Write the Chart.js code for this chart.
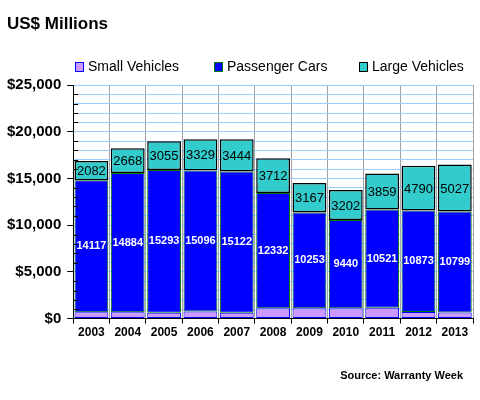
<!DOCTYPE html>
<html>
<head>
<meta charset="utf-8">
<script src="https://cdn.jsdelivr.net/npm/chart.js@4/dist/chart.umd.min.js"></script>
<style>
  html, body { margin: 0; padding: 0; background: #fff; }
  #wrap { width: 480px; height: 400px; }
</style>
</head>
<body>
<div id="wrap"><canvas id="warrantyChart"></canvas></div>
<script>
// ====================
// Data (US$ millions)
// ====================
const years = ["2003","2004","2005","2006","2007","2008","2009","2010","2011","2012","2013"];
const smallVehicles = [680, 690, 620, 760, 620, 1120, 1100, 1110, 1150, 700, 660];
const passengerCars = [14117, 14884, 15293, 15096, 15122, 12332, 10253, 9440, 10521, 10873, 10799];
const largeVehicles = [2082, 2668, 3055, 3329, 3444, 3712, 3167, 3202, 3859, 4790, 5027];
const yMax = 25000;
const yStep = 1000;

const FONT = 'Arial, "Liberation Sans", sans-serif';

// ====================
// Titles, legend, value labels
// ====================
const decorPlugin = {
    id: 'decor',
    afterDatasetsDraw(chart) {
        const ctx = chart.ctx;
        ctx.save();
        ctx.textAlign = 'center';
        ctx.textBaseline = 'middle';
        // passenger cars - white bold
        chart.getDatasetMeta(1).data.forEach((bar, i) => {
            ctx.font = 'bold 11px ' + FONT;
            ctx.fillStyle = '#ffffff';
            ctx.fillText(String(passengerCars[i]), bar.x, (bar.y + bar.base) / 2);
        });
        // large vehicles - black
        chart.getDatasetMeta(2).data.forEach((bar, i) => {
            ctx.font = '13px ' + FONT;
            ctx.fillStyle = '#000000';
            ctx.fillText(String(largeVehicles[i]), bar.x, (bar.y + bar.base) / 2 + 1);
        });
        ctx.restore();
    },
    afterDraw(chart) {
        const ctx = chart.ctx;
        const y = chart.scales.y;
        const area = chart.chartArea;
        ctx.save();
        // small inner ticks on the y axis
        ctx.strokeStyle = '#000';
        ctx.lineWidth = 1;
        y.ticks.forEach(t => {
            if (t.value % 5000 === 0) return;
            const py = Math.round(y.getPixelForValue(t.value)) + 0.5;
            ctx.beginPath();
            ctx.moveTo(area.left, py);
            ctx.lineTo(area.left + 5, py);
            ctx.stroke();
        });

        // title
        ctx.fillStyle = '#000';
        ctx.textBaseline = 'middle';
        ctx.textAlign = 'left';
        ctx.font = 'bold 17px ' + FONT;
        ctx.fillText('US$ Millions', 7, 24);

        // legend
        ctx.font = '14px ' + FONT;
        const boxX = [75, 214, 359];
        chart.data.datasets.forEach((ds, i) => {
            ctx.fillStyle = ds.backgroundColor;
            ctx.fillRect(boxX[i] + 0.5, 62.5, 8, 9);
            ctx.strokeStyle = ds.borderColor;
            ctx.lineWidth = 1;
            ctx.strokeRect(boxX[i] + 0.5, 62.5, 8, 9);
            ctx.fillStyle = '#000';
            ctx.fillText(ds.label, boxX[i] + 13, 67);
        });

        // source
        ctx.font = 'bold 11px ' + FONT;
        ctx.textAlign = 'right';
        ctx.fillText('Source: Warranty Week', 463, 376);
        ctx.restore();
    }
};

// ====================
// Chart
// ====================
const ctx = document.getElementById('warrantyChart').getContext('2d');
new Chart(ctx, {
    type: 'bar',
    data: {
        labels: years,
        datasets: [
            { label: 'Small Vehicles', data: smallVehicles, backgroundColor: '#cc99ff', borderColor: '#0000ff', borderWidth: 1, borderSkipped: false },
            { label: 'Passenger Cars', data: passengerCars, backgroundColor: '#0000ff', borderColor: '#008000', borderWidth: 1, borderSkipped: false },
            { label: 'Large Vehicles', data: largeVehicles, backgroundColor: '#33cccc', borderColor: '#000000', borderWidth: 1.5, borderSkipped: false }
        ]
    },
    options: {
        responsive: true,
        maintainAspectRatio: false,
        animation: false,
        layout: { padding: { left: 1, right: 7, top: 85, bottom: 58 } },
        plugins: {
            legend: { display: false },
            title: { display: false },
            tooltip: { enabled: false }
        },
        datasets: { bar: { barPercentage: 0.93, categoryPercentage: 1 } },
        scales: {
            x: {
                stacked: true,
                grid: { offset: true, color: '#a0a0a0', tickColor: '#000', tickLength: 5 },
                border: { color: '#000', width: 1 },
                ticks: { color: '#000', font: { family: FONT, size: 12, weight: 'bold' }, padding: 2 }
            },
            y: {
                stacked: true,
                min: 0,
                max: yMax,
                grid: {
                    color: '#99ccff',
                    tickLength: 6,
                    tickColor: c => (c.tick && c.tick.value % 5000 === 0) ? '#000' : 'rgba(0,0,0,0)'
                },
                border: { color: '#000', width: 1 },
                ticks: {
                    stepSize: yStep,
                    autoSkip: false,
                    color: '#000',
                    padding: 6,
                    font: { family: FONT, size: 15, weight: 'bold' },
                    callback: v => v % 5000 === 0 ? '$' + v.toLocaleString('en-US') : ''
                }
            }
        }
    },
    plugins: [decorPlugin]
});
</script>
</body>
</html>
